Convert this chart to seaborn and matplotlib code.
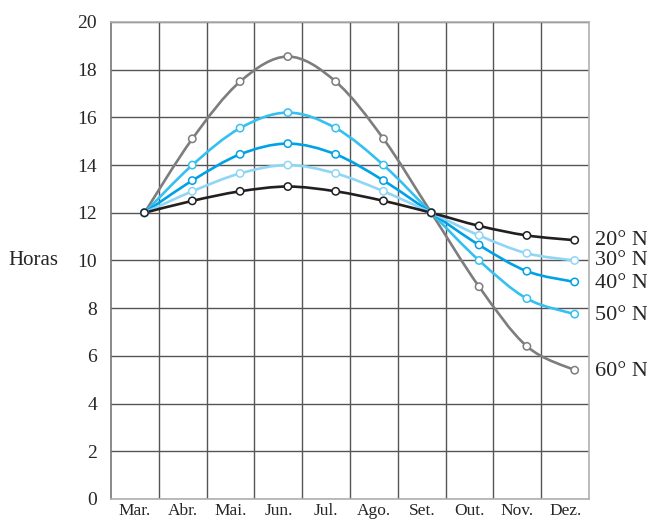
import numpy as np
import pandas as pd
import matplotlib
matplotlib.use("Agg")
import matplotlib.pyplot as plt
from matplotlib.path import Path
from matplotlib.patches import PathPatch
import seaborn as sns

# hours of daylight on the 21st of each month
months = ["Mar.", "Abr.", "Mai.", "Jun.", "Jul.", "Ago.", "Set.", "Out.", "Nov.", "Dez."]
lat20 = [12.0, 12.5, 12.9, 13.1, 12.9, 12.5, 12.0, 11.45, 11.05, 10.85]
lat30 = [12.0, 12.9, 13.65, 14.0, 13.65, 12.9, 12.0, 11.05, 10.3, 10.0]
lat40 = [12.0, 13.35, 14.45, 14.9, 14.45, 13.35, 12.0, 10.65, 9.55, 9.1]
lat50 = [12.0, 14.0, 15.55, 16.2, 15.55, 14.0, 12.0, 10.0, 8.4, 7.75]
lat60 = [12.0, 15.1, 17.5, 18.55, 17.5, 15.1, 12.0, 8.9, 6.4, 5.4]
labels = ["20° N", "30° N", "40° N", "50° N", "60° N"]
colors = ["#231f20", "#8fd6f6", "#00a2e6", "#35c0f0", "#7d7d7d"]

series = [lat20, lat30, lat40, lat50, lat60]
day = 21 / 30  # position of the 21st inside each month column

rows = []
for lab, vals in zip(labels, series):
    for i, v in enumerate(vals):
        rows.append({"x": i + day, "horas": v, "lat": lab})
df = pd.DataFrame(rows)

sns.set_style("white")
plt.rcParams["font.family"] = ["Liberation Serif", "DejaVu Serif"]

fig = plt.figure(figsize=(6.47, 5.22), dpi=100)
ax = fig.add_axes([0.1716, 0.0441, 0.7388, 0.9138])


def smooth_path(xs, ys):
    # Catmull-Rom through the points, drawn as cubic Beziers
    pts = np.column_stack([xs, ys])
    ext = np.vstack([pts[0], pts, pts[-1]])
    verts = [pts[0]]
    codes = [Path.MOVETO]
    for i in range(len(pts) - 1):
        p0, p1, p2, p3 = ext[i], ext[i + 1], ext[i + 2], ext[i + 3]
        verts += [p1 + (p2 - p0) / 6, p2 - (p3 - p1) / 6, p2]
        codes += [Path.CURVE4] * 3
    return Path(verts, codes)


for k in [4, 3, 2, 1, 0]:
    sub = df[df["lat"] == labels[k]]
    ax.add_patch(PathPatch(smooth_path(sub["x"].values, sub["horas"].values),
                           facecolor="none", edgecolor=colors[k], lw=1.9,
                           zorder=3 + (5 - k) * 0.1, capstyle="round"))

# reversed so the 20N markers end up on top
sns.scatterplot(data=df.iloc[::-1], x="x", y="horas", hue="lat",
                palette=dict(zip(labels, colors)), ax=ax, s=28, legend=False, zorder=5)
pts = ax.collections[-1]
pts.set_edgecolors(pts.get_facecolors())
pts.set_facecolor("white")
pts.set_linewidth(1.1)

ax.set_xlim(0, len(months))
ax.set_ylim(0, 20)
ax.set_xticks(np.arange(len(months)) + 0.5)
ax.set_xticklabels(months)
ax.set_xticks(np.arange(1, len(months)), minor=True)
ax.set_yticks(np.arange(0, 21, 2))
ax.grid(False)
ax.grid(which="minor", axis="x", color="#555555", lw=1.0)
ax.grid(which="major", axis="y", color="#555555", lw=1.0)
ax.tick_params(which="both", length=0)
ax.tick_params(axis="y", labelsize=14, pad=10)
ax.tick_params(axis="x", labelsize=12.5, pad=3)
ax.set_xlabel("")
ax.set_ylabel("Horas", fontsize=15, rotation=0, labelpad=32, va="center")
for s in ["top", "right", "bottom"]:
    ax.spines[s].set_color("#b0b0b0")
    ax.spines[s].set_linewidth(1.2)
    ax.spines[s].set_zorder(6)
ax.spines["left"].set_color("#777777")
ax.spines["left"].set_linewidth(1.2)

# labels next to the December ends
label_y = [10.85, 10.0, 9.05, 7.7, 5.35]
for lab, yy in zip(labels, label_y):
    ax.text(1.012, yy, lab, transform=ax.get_yaxis_transform(), fontsize=16,
            va="center", ha="left", clip_on=False)

fig.savefig("out.png", dpi=100)
